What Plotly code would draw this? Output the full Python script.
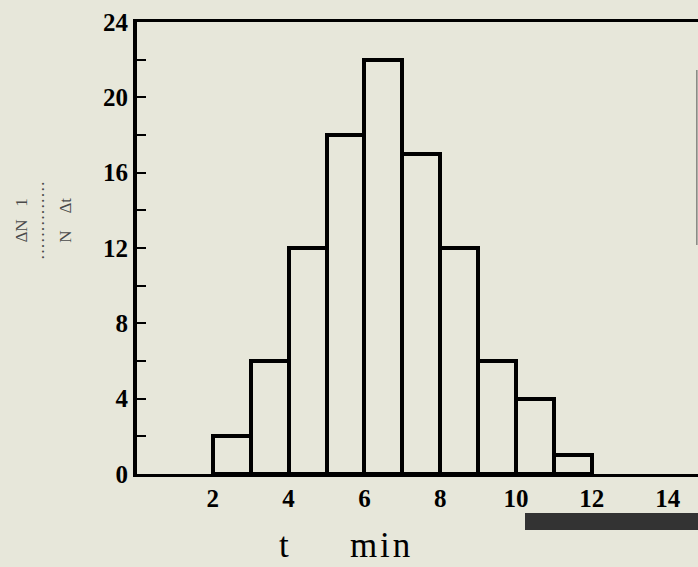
import plotly.graph_objects as go

bin_left = [2, 3, 4, 5, 6, 7, 8, 9, 10, 11]
bin_width = 1
values = [2, 6, 12, 18, 22, 17, 12, 6, 4, 1]
x_ticks = [2, 4, 6, 8, 10, 12, 14]
y_ticks = [0, 4, 8, 12, 16, 20, 24]

centers = [b + bin_width / 2 for b in bin_left]

bg = "#e7e7da"
font_serif = "Liberation Serif"
W, H = 698, 567
L, R, T, B = 137, 0, 22, 93
pw, ph = W - L - R, H - T - B

fig = go.Figure()
fig.add_trace(go.Bar(
    x=centers, y=values, width=bin_width,
    marker=dict(color="rgba(0,0,0,0)", line=dict(color="black", width=4)),
    showlegend=False, hoverinfo="skip",
))

fig.update_layout(
    width=W, height=H,
    margin=dict(l=L, r=R, t=T, b=B),
    paper_bgcolor=bg, plot_bgcolor=bg,
    font=dict(family=font_serif, color="black"),
    bargap=0,
    xaxis=dict(
        range=[0, 14.8], tickvals=x_ticks, ticktext=[str(v) for v in x_ticks],
        showgrid=False, zeroline=False, showline=True, linecolor="black",
        linewidth=3, mirror=True, ticks="",
        tickfont=dict(size=25, family=font_serif, weight="bold"),
    ),
    yaxis=dict(
        range=[0, 24], tickvals=y_ticks, ticktext=[str(v) for v in y_ticks],
        showgrid=False, zeroline=False, showline=True, linecolor="black",
        linewidth=4, ticks="inside", ticklen=7, tickwidth=2, tickcolor="black",
        minor=dict(dtick=2, tick0=0, ticks="inside", ticklen=9, tickwidth=2, tickcolor="black"),
        tickfont=dict(size=25, family=font_serif, weight="bold"),
    ),
)

# x-axis title
fig.add_annotation(text="t\u00a0\u00a0\u00a0\u00a0\u00a0\u00a0\u00a0m\u200ai\u200an",
                   xref="paper", yref="paper",
                   x=(344 - L) / pw, y=-(H - T - ph) / ph, yanchor="bottom", xanchor="center",
                   showarrow=False, font=dict(size=35, family=font_serif, color="black"))
# y-axis title (rotated fraction-like)
fig.add_annotation(text="ΔN\u00a0\u00a0\u00a01<br>··············<br>N\u00a0\u00a0\u00a0\u00a0Δt",
                   xref="paper", yref="paper",
                   x=(43 - L) / pw, y=(T + ph - 220) / ph, xanchor="center", yanchor="middle",
                   textangle=-90, showarrow=False, align="center",
                   font=dict(size=17, family=font_serif, color="#4a4a4a"))

# decorative dark bar at bottom right of the slide
fig.add_shape(type="rect", xref="paper", yref="paper",
              x0=(525 - L) / pw, x1=1.0, y0=-(530 - T - ph) / ph, y1=-(513 - T - ph) / ph,
              fillcolor="#333333", line=dict(width=0), layer="above")
# faint vertical edge line at the right
fig.add_shape(type="line", xref="paper", yref="paper",
              x0=0.998, x1=0.998, y0=(T + ph - 70) / ph, y1=(T + ph - 245) / ph,
              line=dict(color="#555555", width=1))

fig.write_html("out.html", config={"displayModeBar": False},
               post_script="document.body.style.margin='0';document.body.style.background='%s';"
                           "document.body.style.overflow='hidden';" % bg)
